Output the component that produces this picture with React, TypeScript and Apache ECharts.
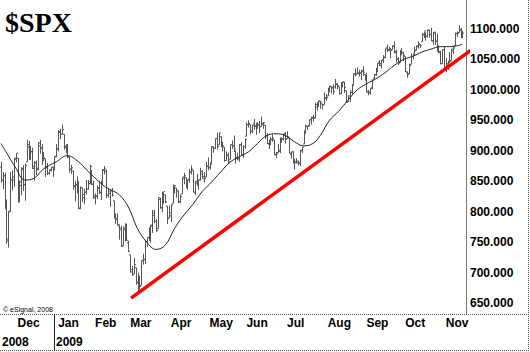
import React, { useEffect, useRef } from "react";
import * as echarts from "echarts";

// Months covered (trading-day counts) – Nov 17 2008 .. Nov 13 2009
const monthNames = ["Nov", "Dec", "Jan", "Feb", "Mar", "Apr", "May", "Jun", "Jul", "Aug", "Sep", "Oct", "Nov"];
const monthDays = [9, 22, 20, 19, 22, 21, 20, 22, 22, 21, 21, 22, 10];
const yearLabels = ["2008", "2009"];

const opens = [
  873, 852, 859, 805, 755, 801, 853, 852, 886,
  888, 817, 843, 869, 844, 882, 906, 892, 898, 871, 881, 871, 908, 905, 886, 887, 874, 863, 869, 873, 871, 890,
  903, 930, 927, 927, 905, 909, 890, 869, 867, 841, 845, 849, 806, 839, 823, 832, 837, 846, 868, 845,
  823, 826, 838, 831, 846, 868, 866, 827, 830, 834, 818, 791, 788, 776, 773, 744, 771, 765, 749,
  729, 705, 698, 708, 684, 681, 679, 720, 722, 751, 758, 753, 776, 798, 784, 772, 820, 807, 814, 828, 809, 790,
  793, 814, 835, 839, 834, 816, 829, 855, 856, 839, 854, 865, 868, 831, 847, 844, 853, 862, 854, 857, 875,
  872, 879, 906, 904, 920, 910, 923, 911, 906, 884, 892, 886, 910, 908, 900, 889, 887, 910, 893, 907,
  924, 943, 943, 932, 945, 941, 940, 943, 940, 943, 942, 925, 911, 911, 919, 918, 894, 897, 899, 918, 920, 928,
  920, 921, 894, 898, 882, 882, 880, 880, 900, 911, 930, 940, 942, 951, 953, 954, 972, 979, 981, 977, 976, 986,
  990, 1001, 1005, 1004, 1005, 1009, 1005, 994, 1006, 1013, 999, 981, 986, 996, 1009, 1026, 1026, 1027, 1027, 1031, 1025,
  1019, 996, 996, 1003, 1019, 1025, 1032, 1044, 1040, 1049, 1054, 1067, 1066, 1066, 1066, 1072, 1063, 1050, 1045, 1064, 1061,
  1055, 1029, 1027, 1042, 1055, 1060, 1065, 1072, 1074, 1079, 1090, 1094, 1088, 1098, 1091, 1080, 1095, 1080, 1068, 1061, 1043, 1066,
  1036, 1041, 1047, 1048, 1064, 1073, 1092, 1094, 1098, 1088,
];
const highs = [
  882, 865, 864, 820, 801, 865, 868, 888, 896,
  888, 851, 873, 876, 879, 918, 916, 908, 905, 883, 884, 914, 918, 911, 898, 887, 880, 869, 873, 874, 891, 911,
  934, 936, 943, 927, 910, 911, 890, 877, 867, 851, 858, 849, 841, 839, 838, 852, 852, 877, 868, 851,
  830, 843, 851, 851, 870, 875, 869, 839, 835, 839, 818, 797, 797, 779, 777, 776, 781, 780, 752,
  729, 711, 724, 708, 700, 695, 720, 731, 752, 758, 774, 778, 803, 803, 788, 823, 823, 833, 832, 828, 809, 810,
  813, 845, 843, 839, 834, 828, 856, 864, 856, 853, 870, 876, 868, 850, 862, 852, 872, 868, 865, 882, 889,
  881, 907, 907, 920, 930, 930, 923, 915, 906, 899, 897, 910, 917, 925, 900, 897, 911, 914, 909, 920,
  947, 950, 943, 943, 952, 946, 947, 949, 956, 947, 942, 929, 918, 923, 927, 918, 898, 911, 922, 922, 928, 931,
  932, 921, 898, 899, 887, 888, 884, 901, 906, 933, 943, 941, 951, 956, 959, 979, 979, 982, 982, 977, 996, 993,
  1003, 1007, 1006, 1009, 1018, 1011, 1005, 1013, 1013, 1013, 999, 991, 999, 1008, 1027, 1035, 1037, 1033, 1033, 1039, 1025,
  1028, 1000, 1003, 1017, 1026, 1036, 1044, 1049, 1049, 1057, 1068, 1074, 1071, 1066, 1073, 1080, 1066, 1054, 1065, 1069, 1063,
  1055, 1030, 1043, 1060, 1058, 1071, 1073, 1080, 1075, 1093, 1096, 1094, 1099, 1099, 1102, 1095, 1095, 1092, 1073, 1064, 1066, 1071,
  1052, 1046, 1062, 1067, 1071, 1094, 1096, 1106, 1102, 1097,
];
const lows = [
  848, 837, 806, 747, 741, 800, 835, 841, 881,
  815, 817, 827, 834, 818, 882, 885, 885, 870, 851, 860, 868, 895, 877, 883, 857, 860, 861, 866, 857, 868, 890,
  899, 919, 927, 902, 896, 888, 864, 862, 836, 817, 830, 804, 804, 816, 812, 828, 836, 846, 844, 821,
  812, 821, 829, 819, 845, 861, 822, 823, 808, 825, 789, 780, 777, 754, 742, 744, 751, 752, 734,
  700, 695, 698, 680, 667, 672, 679, 713, 714, 742, 753, 749, 765, 781, 767, 772, 805, 799, 814, 814, 780, 790,
  783, 814, 830, 823, 814, 814, 829, 845, 840, 836, 847, 861, 832, 827, 843, 836, 851, 854, 848, 857, 868,
  869, 879, 897, 903, 902, 910, 906, 899, 882, 884, 878, 886, 903, 898, 879, 884, 882, 892, 889, 903,
  924, 938, 927, 929, 935, 926, 936, 929, 940, 936, 919, 911, 903, 909, 915, 893, 888, 897, 896, 913, 917, 912,
  920, 896, 887, 879, 869, 879, 876, 875, 896, 911, 928, 934, 940, 943, 948, 953, 966, 972, 969, 968, 976, 982,
  990, 996, 994, 992, 1002, 1001, 992, 993, 1004, 995, 979, 981, 980, 993, 1009, 1022, 1026, 1022, 1016, 1023, 1015,
  996, 991, 992, 1001, 1018, 1023, 1029, 1039, 1035, 1044, 1052, 1062, 1064, 1052, 1066, 1060, 1045, 1041, 1045, 1057, 1047,
  1029, 1020, 1026, 1042, 1050, 1060, 1065, 1068, 1069, 1079, 1085, 1081, 1086, 1086, 1080, 1074, 1074, 1063, 1060, 1042, 1043, 1034,
  1029, 1033, 1045, 1048, 1059, 1073, 1087, 1094, 1085, 1085,
];
const closes = [
  851, 859, 807, 752, 800, 852, 857, 888, 896,
  816, 849, 871, 845, 876, 910, 889, 899, 874, 880, 869, 913, 904, 885, 888, 872, 863, 868, 873, 869, 891, 903,
  932, 927, 935, 907, 910, 890, 870, 872, 843, 844, 850, 805, 840, 828, 832, 837, 846, 874, 845, 826,
  825, 839, 832, 846, 869, 870, 827, 834, 835, 827, 789, 788, 779, 770, 743, 773, 765, 753, 735,
  701, 696, 713, 683, 683, 677, 720, 721, 751, 757, 754, 778, 794, 784, 769, 823, 806, 814, 833, 816, 788, 798,
  811, 834, 843, 835, 816, 825, 857, 859, 842, 852, 865, 870, 832, 850, 844, 852, 866, 858, 855, 874, 873,
  878, 907, 904, 920, 907, 929, 909, 908, 884, 893, 883, 910, 908, 903, 888, 887, 910, 893, 907, 919,
  943, 945, 932, 942, 940, 939, 942, 939, 945, 946, 924, 912, 911, 918, 921, 893, 895, 901, 920, 919, 927, 919,
  923, 896, 899, 881, 880, 883, 879, 901, 906, 933, 941, 940, 951, 955, 954, 976, 979, 982, 980, 975, 987, 987,
  1003, 1006, 1003, 997, 1010, 1007, 994, 1006, 1013, 1004, 980, 990, 996, 1007, 1026, 1026, 1028, 1028, 1031, 1029, 1021,
  998, 995, 1003, 1016, 1025, 1033, 1044, 1043, 1049, 1053, 1069, 1065, 1068, 1065, 1072, 1061, 1051, 1044, 1063, 1061, 1057,
  1030, 1025, 1040, 1055, 1058, 1065, 1071, 1076, 1073, 1092, 1097, 1088, 1098, 1091, 1081, 1093, 1080, 1067, 1063, 1043, 1066, 1036,
  1043, 1045, 1047, 1067, 1069, 1093, 1093, 1099, 1087, 1093,
];

// Moving average line (read at sample bars)
const maBar = [0, 4, 8, 13, 18, 23, 30, 36, 42, 46, 50, 56, 60, 64, 69, 74, 79, 84, 89, 94, 98, 104, 109, 113, 119, 124, 129, 134, 139, 144, 149, 154, 159, 164, 169, 173, 178, 183, 188, 193, 198, 203, 208, 213, 218, 223, 228, 233, 238, 243, 248, 250];
const maValue = [912, 892, 872, 852, 855, 870, 882, 892, 882, 870, 858, 842, 835, 828, 808, 772, 750, 738, 745, 772, 790, 812, 833, 845, 865, 881, 890, 898, 912, 925, 928, 925, 915, 908, 912, 925, 950, 965, 983, 1000, 1010, 1018, 1028, 1040, 1050, 1055, 1062, 1067, 1071, 1071, 1073, 1075];

// Trend line (bar position, price)
const trendBar = [70.5, 256.8];
const trendValue = [658, 1070];

const yTicks = { min: 650, max: 1100, step: 50 };
const PAD = 2;

export default function App() {
  const ref = useRef<HTMLDivElement>(null);
  useEffect(() => {
    if (!ref.current) return;
    const chart = echarts.init(ref.current, null, { renderer: "svg" });

    const cats: string[] = [];
    const monthStart: boolean[] = [];
    monthNames.forEach((m, mi) => {
      for (let d = 0; d < monthDays[mi]; d++) {
        cats.push(d === 0 && mi > 0 ? m : "");
        monthStart.push(d === 0 && mi > 0);
      }
    });
    for (let p = 0; p < PAD; p++) {
      cats.push("");
      monthStart.push(false);
    }
    const N = cats.length;

    const ohlc = opens.map((o, i) => [i, o, highs[i], lows[i], closes[i]]);
    const ma = maBar.map((b, i) => [b, maValue[i]]);
    const trend = trendBar.map((b, i) => [b, trendValue[i]]);

    const barColor = "#555";
    const font = "'Liberation Sans', Arial, sans-serif";
    const dotted = { stroke: "#555", lineWidth: 1, lineDash: [1, 1] };

    chart.setOption({
      animation: false,
      backgroundColor: "#fff",
      grid: { left: 0, right: 63, top: 29, bottom: 49, outerBoundsMode: "none", containLabel: false },
      xAxis: [
        { type: "value", min: -0.5, max: N - 0.5, show: false },
        {
          type: "category",
          data: cats,
          boundaryGap: true,
          position: "bottom",
          axisLine: { show: false },
          axisTick: { show: false },
          splitLine: { show: false },
          axisLabel: {
            interval: (i: number) => monthStart[i],
            align: "left",
            margin: 14,
            fontFamily: font,
            fontWeight: "bold",
            fontSize: 12,
            color: "#000",
          },
        },
      ],
      yAxis: {
        type: "value",
        position: "right",
        min: yTicks.min,
        max: yTicks.max,
        interval: yTicks.step,
        axisLine: { show: false },
        axisTick: { show: false },
        splitLine: { show: false },
        axisLabel: {
          margin: 3,
          showMinLabel: true,
          showMaxLabel: true,
          fontFamily: font,
          fontWeight: "bold",
          fontSize: 12,
          color: "#000",
          formatter: (v: number) => v.toFixed(3),
        },
      },
      series: [
        {
          type: "custom",
          xAxisIndex: 0,
          clip: false,
          data: ohlc,
          encode: { x: 0, y: [1, 2, 3, 4] },
          renderItem: (_p: any, api: any) => {
            const i = api.value(0);
            const o = api.coord([i, api.value(1)]);
            const h = api.coord([i, api.value(2)]);
            const l = api.coord([i, api.value(3)]);
            const c = api.coord([i, api.value(4)]);
            const x = Math.round(h[0]) + 0.5;
            const st = { stroke: barColor, lineWidth: 1 };
            return {
              type: "group",
              children: [
                { type: "line", shape: { x1: x, y1: h[1], x2: x, y2: l[1] }, style: st },
                { type: "line", shape: { x1: x - 1.5, y1: o[1], x2: x, y2: o[1] }, style: st },
                { type: "line", shape: { x1: x, y1: c[1], x2: x + 1.5, y2: c[1] }, style: st },
              ],
            };
          },
        },
        {
          type: "line",
          xAxisIndex: 0,
          data: ma,
          smooth: 0.4,
          symbol: "none",
          clip: false,
          lineStyle: { color: "#222", width: 1 },
        },
        {
          type: "line",
          xAxisIndex: 0,
          data: trend,
          symbol: "none",
          clip: false,
          lineStyle: { color: "#ff0000", width: 3.5 },
          z: 5,
        },
      ],
      graphic: [
        {
          type: "text",
          x: 5,
          y: 22,
          style: { text: "$SPX", font: "bold 28px 'Liberation Serif', 'Times New Roman', serif", fill: "#000", verticalAlign: "middle" },
        },
        {
          type: "text",
          x: 3,
          y: 309,
          style: { text: "© eSignal, 2008", font: "7px 'Liberation Sans', Arial, sans-serif", fill: "#000", verticalAlign: "middle" },
        },
        {
          type: "text",
          x: 2,
          y: 342,
          style: { text: yearLabels[0], font: "bold 12px 'Liberation Sans', Arial, sans-serif", fill: "#000", verticalAlign: "middle" },
        },
        {
          type: "text",
          x: 56,
          y: 342,
          style: { text: yearLabels[1], font: "bold 12px 'Liberation Sans', Arial, sans-serif", fill: "#000", verticalAlign: "middle" },
        },
        { type: "line", shape: { x1: 466.5, y1: 0, x2: 466.5, y2: 314 }, style: { stroke: "#777", lineWidth: 1 } },
        { type: "line", shape: { x1: 0, y1: 314.5, x2: 530, y2: 314.5 }, style: dotted },
        { type: "line", shape: { x1: 0, y1: 350.5, x2: 530, y2: 350.5 }, style: dotted },
        { type: "line", shape: { x1: 528.5, y1: 0, x2: 528.5, y2: 352 }, style: dotted },
        { type: "line", shape: { x1: 54.5, y1: 314, x2: 54.5, y2: 351 }, style: { stroke: "#222", lineWidth: 1 } },
      ],
    });
    return () => chart.dispose();
  }, []);
  return <div ref={ref} style={{ width: 530, height: 352, position: "fixed", left: 0, top: 0 }} />;
}
